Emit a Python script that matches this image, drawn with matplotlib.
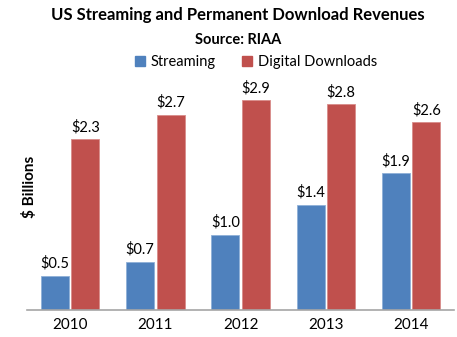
import numpy as np
import matplotlib
matplotlib.use('agg')
import matplotlib.pyplot as plt
from matplotlib.patches import Patch

plt.rc('font', family=['Lato', 'DejaVu Sans'])

years = ['2010', '2011', '2012', '2013', '2014']
streaming = [0.47, 0.66, 1.03, 1.44, 1.87]
downloads = [2.34, 2.67, 2.87, 2.82, 2.57]

blue = '#4F81BD'
red = '#C0504D'

fig = plt.figure(figsize=(4.57, 3.37), dpi=100)
ax = fig.add_axes([0.060, 0.080, 0.933, 0.650])

x = np.arange(len(years))
w = 0.33
off = 0.179
b1 = ax.bar(x - off, streaming, w, color=blue, edgecolor='#8FB0D8', linewidth=0.6)
b2 = ax.bar(x + off, downloads, w, color=red, edgecolor='#D98C8A', linewidth=0.6)

for bars, vals in [(b1, streaming), (b2, downloads)]:
    for r, v in zip(bars, vals):
        ax.text(r.get_x() + r.get_width() / 2, v + 0.07, f'${v:.1f}',
                ha='center', va='bottom', fontsize=10.5)

ax.set_xlim(-0.5, 4.5)
ax.set_ylim(0, 3.0)
ax.set_xticks(x)
ax.set_xticklabels(years, fontsize=11)
ax.tick_params(axis='x', length=0, pad=6)
ax.set_yticks([])
for s in ['top', 'right', 'left']:
    ax.spines[s].set_visible(False)
ax.spines['bottom'].set_color('#A6A6A6')
ax.spines['bottom'].set_linewidth(1.2)

# y label sits right on the axis start like in the source
fig.text(29 / 457, 1 - 187 / 337, '$ Billions', rotation=90, ha='center',
         va='center', fontsize=11, fontweight='bold')

fig.text(0.52, 0.955, 'US Streaming and Permanent Download Revenues',
         ha='center', va='center', fontsize=12, fontweight='bold')
fig.text(0.52, 0.882, 'Source: RIAA', ha='center', va='center',
         fontsize=10.5, fontweight='bold')

handles = [Patch(color=blue), Patch(color=red)]
fig.legend(handles, ['Streaming', 'Digital Downloads'], loc='center',
           bbox_to_anchor=(0.560, 0.815), ncol=2, frameon=False, fontsize=10.5,
           handlelength=0.7, handleheight=0.7, handletextpad=0.4, columnspacing=1.8)

plt.savefig('out.png', dpi=100)
